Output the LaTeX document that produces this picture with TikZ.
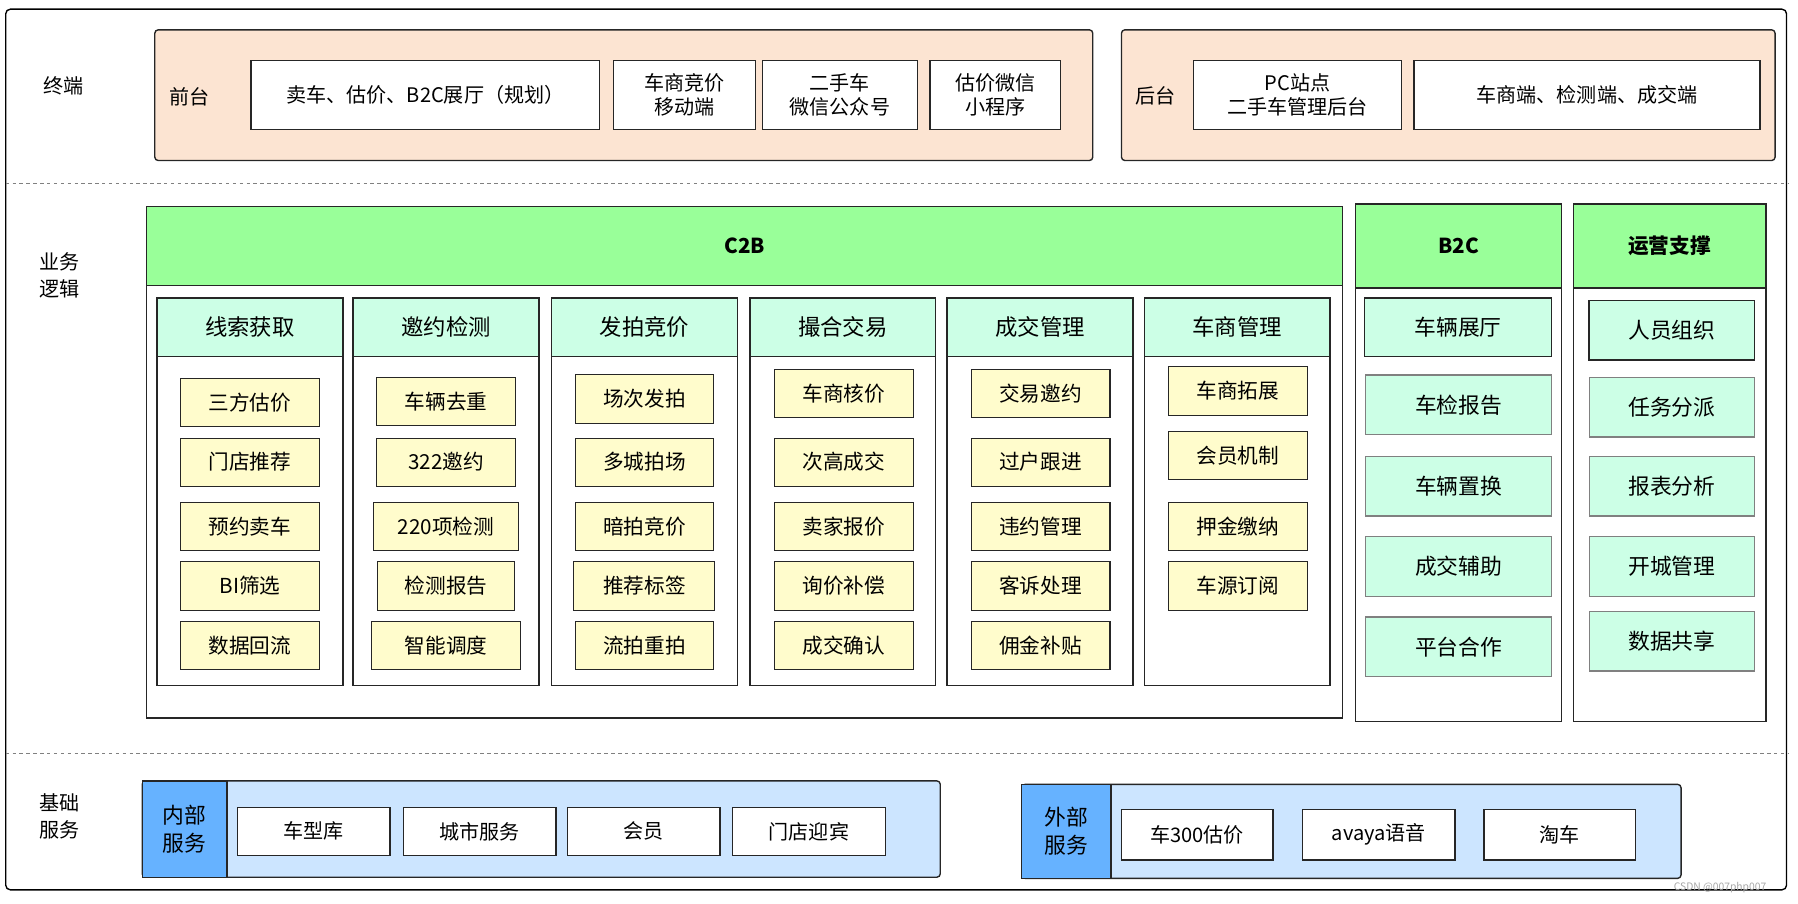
\documentclass[tikz,border=0pt]{standalone}
\usepackage{fontspec}
\setmainfont{Noto Sans CJK SC}
\begin{document}
\begin{tikzpicture}[x=1pt,y=-1pt,
  bx/.style={draw=black!85,line width=1.2pt,inner sep=0pt,align=center,font=\fontsize{17.5}{21}\selectfont},
  wb/.style={bx,fill=white},
  yb/.style={bx,fill=yellow!20!white,line width=0.9pt,font=\fontsize{18}{21}\selectfont},
  mb/.style={bx,fill={rgb,255:red,204;green,255;blue,230},font=\fontsize{19}{22}\selectfont},
  gh/.style={bx,fill={rgb,255:red,153;green,255;blue,153},font=\bfseries\fontsize{18}{22}\selectfont},
  lbl/.style={align=center,font=\fontsize{17.5}{23}\selectfont}]
\useasboundingbox (0,0) rectangle (1568,788);
\draw[line width=1.2pt,rounded corners=4pt] (5,8) rectangle (1558,776);
\draw[dashed,gray] (5,160) -- (1560,160);
\draw[dashed,gray] (5,657) -- (1560,657);
\node[lbl] (l1) at (55,75) {终端};
\node[lbl] (l2) at (52,240) {业务\\逻辑};
\node[lbl] (l3) at (52,712) {基础\\服务};
% top
\path[draw=black!85,line width=1.2pt,fill={rgb,255:red,252;green,228;blue,210},rounded corners=3pt] (135,26) rectangle (953,140);
\path[draw=black!85,line width=1.2pt,fill={rgb,255:red,252;green,228;blue,210},rounded corners=3pt] (978,26) rectangle (1548,140);
\node[lbl] (qt) at (165,84) {前台};
\node[lbl] (ht) at (1008,84) {后台};
\node[wb,minimum width=304,minimum height=60] (t1) at (371,83) {卖车、估价、B2C展厅（规划）};
\node[wb,minimum width=124,minimum height=60] (t2) at (597,83) {车商竞价\\移动端};
\node[wb,minimum width=135,minimum height=60] (t3) at (732.5,83) {二手车\\微信公众号};
\node[wb,minimum width=114,minimum height=60] (t4) at (868,83) {估价微信\\小程序};
\node[wb,minimum width=181,minimum height=60] (t5) at (1131.5,83) {PC站点\\二手车管理后台};
\node[wb,minimum width=302,minimum height=60] (t6) at (1384,83) {车商端、检测端、成交端};
% C2B
\node[bx,fill=white,minimum width=1043,minimum height=446] (c2b) at (649.5,403) {};
\node[gh,minimum width=1043,minimum height=69] (c2bh) at (649.5,214.5) {C2B};
\foreach \i/\cx/\t in {1/218/线索获取,2/389/邀约检测,3/562/发拍竞价,4/735/撮合交易,5/907/成交管理,6/1079/车商管理}{
  \node[bx,fill=white,minimum width=162,minimum height=338] (col\i) at (\cx,429) {};
  \node[mb,minimum width=162,minimum height=51,font=\fontsize{19.5}{22}\selectfont] (h\i) at (\cx,285.5) {\t};
}
\foreach \j/\y/\t/\w in {1/351/三方估价/121,2/403/门店推荐/121,3/459/预约卖车/121,4/511/BI筛选/121,5/563/数据回流/121}
  \node[yb,minimum width=\w,minimum height=42] (a\j) at (218,\y) {\t};
\foreach \j/\y/\t/\w in {1/350/车辆去重/121,2/403/322邀约/121,3/459/220项检测/127,4/511/检测报告/119,5/563/智能调度/130}
  \node[yb,minimum width=\w,minimum height=42] (b\j) at (389,\y) {\t};
\foreach \j/\y/\t/\w in {1/348/场次发拍/120,2/403/多城拍场/120,3/459/暗拍竞价/120,4/511/推荐标签/123,5/563/流拍重拍/120}
  \node[yb,minimum width=\w,minimum height=42] (c\j) at (562,\y) {\t};
\foreach \j/\y/\t in {1/343/车商核价,2/403/次高成交,3/459/卖家报价,4/511/询价补偿,5/563/成交确认}
  \node[yb,minimum width=122,minimum height=42] (d\j) at (736,\y) {\t};
\foreach \j/\y/\t in {1/343/交易邀约,2/403/过户跟进,3/459/违约管理,4/511/客诉处理,5/563/佣金补贴}
  \node[yb,minimum width=121,minimum height=42] (e\j) at (907.5,\y) {\t};
\foreach \j/\y/\t in {1/341/车商拓展,2/397/会员机制,3/459/押金缴纳,4/511/车源订阅}
  \node[yb,minimum width=121,minimum height=42] (f\j) at (1079.5,\y) {\t};
% B2C
\node[bx,fill=white,minimum width=180,minimum height=451] (b2c) at (1272,403.5) {};
\node[gh,minimum width=180,minimum height=73] (b2ch) at (1272,214.5) {B2C};
\node[mb,minimum width=163,minimum height=51,line width=1.5pt] (g1) at (1271.5,285.5) {车辆展厅};
\foreach \j/\y/\t in {2/353/车检报告,3/424/车辆置换,4/494/成交辅助,5/564/平台合作}
  \node[mb,minimum width=162,minimum height=52,draw=black!50] (g\j) at (1272,\y) {\t};
% 运营支撑
\node[bx,fill=white,minimum width=168,minimum height=451] (yy) at (1456,403.5) {};
\node[gh,minimum width=168,minimum height=73] (yyh) at (1456,214.5) {运营支撑};
\node[mb,minimum width=144,minimum height=52,line width=1.5pt] (k1) at (1458,288) {人员组织};
\foreach \j/\y/\t in {2/355/任务分派,3/424/报表分析,4/494/开城管理,5/559/数据共享}
  \node[mb,minimum width=144,minimum height=52,draw=black!50] (k\j) at (1458,\y) {\t};
% bottom
\path[draw=black!85,line width=1.2pt,fill={rgb,255:red,204;green,229;blue,255},rounded corners=3pt] (124,681) rectangle (820,765);
\node[bx,fill={rgb,255:red,102;green,178;blue,255},minimum width=74,minimum height=84,font=\fontsize{19}{24}\selectfont] (nb) at (161,723) {内部\\服务};
\node[wb,minimum width=133,minimum height=42] (n1) at (273.5,725) {车型库};
\node[wb,minimum width=133,minimum height=42] (n2) at (418.5,725) {城市服务};
\node[wb,minimum width=133,minimum height=42] (n3) at (561.5,725) {会员};
\node[wb,minimum width=133,minimum height=42] (n4) at (705.5,725) {门店迎宾};
\path[draw=black!85,line width=1.2pt,fill={rgb,255:red,204;green,229;blue,255},rounded corners=3pt] (891,684) rectangle (1466,766);
\node[bx,fill={rgb,255:red,102;green,178;blue,255},minimum width=78,minimum height=82,font=\fontsize{19}{24}\selectfont] (wbx) at (930,725) {外部\\服务};
\node[wb,minimum width=132,minimum height=44] (w1) at (1044,728) {车300估价};
\node[wb,minimum width=133,minimum height=44] (w2) at (1202.5,728) {avaya语音};
\node[wb,minimum width=132,minimum height=44] (w3) at (1360,728) {淘车};
\node[font=\fontsize{9}{10}\selectfont,text=gray!70] (wm) at (1500,774) {CSDN @007php007};
\end{tikzpicture}
\end{document}
